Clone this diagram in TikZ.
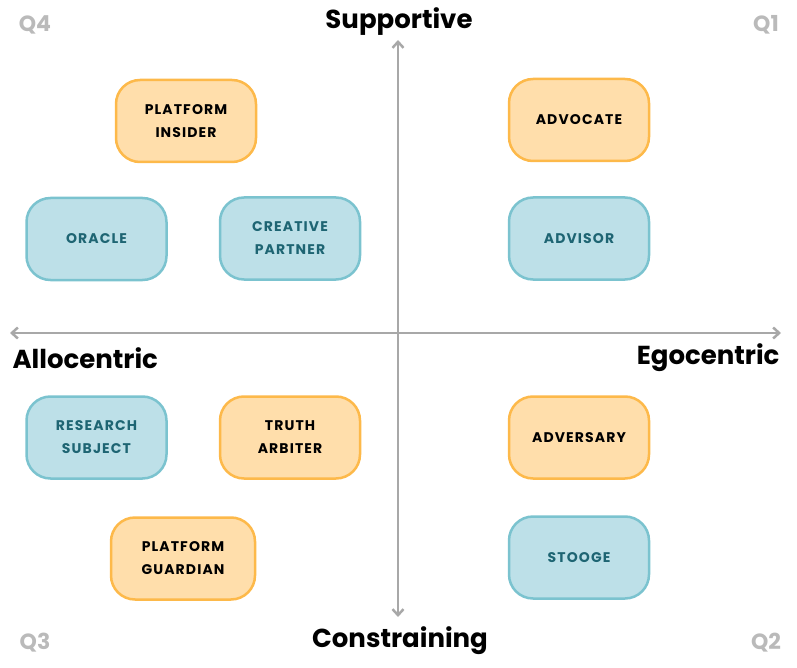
\documentclass[tikz,border=0pt]{standalone}
\usepackage{fontspec}
\usetikzlibrary{arrows.meta}
\setmainfont{Poppins}
\newfontfamily\spaced[LetterSpace=8]{Poppins}
\definecolor{ofill}{HTML}{FFDEAB}
\definecolor{oline}{HTML}{FDB94A}
\definecolor{bfill}{HTML}{BDE0E8}
\definecolor{bline}{HTML}{7BC3CF}
\definecolor{btext}{HTML}{1E6573}
\definecolor{axis}{HTML}{A8A8A8}
\begin{document}
\begin{tikzpicture}[x=1pt,y=-1pt,
  card/.style={rounded corners=24pt,line width=2.5pt,minimum width=140pt,minimum height=82pt,align=center,font=\spaced\bfseries\fontsize{14}{23}\selectfont},
  orange/.style={card,fill=ofill,draw=oline,text=black},
  blue/.style={card,fill=bfill,draw=bline,text=btext},
  axlab/.style={font=\bfseries\fontsize{26}{28}\selectfont},
  qlab/.style={font=\bfseries\fontsize{22}{24}\selectfont,text=black!27}]
\useasboundingbox (0,0) rectangle (797,668);
\draw[axis,line width=2.5pt,{Straight Barb[length=6pt,width=11pt]}-{Straight Barb[length=6pt,width=11pt]}] (398,40) -- (398,617);
\draw[axis,line width=2.5pt,{Straight Barb[length=6pt,width=11pt]}-{Straight Barb[length=6pt,width=11pt]}] (10,333) -- (781,333);
\node[axlab] (sup) at (399,22) {Supportive};
\node[axlab] (con) at (400,641) {Constraining};
\node[axlab,anchor=west] (allo) at (9,358) {Allocentric};
\node[axlab,anchor=east] (ego) at (783,358) {Egocentric};
\node[qlab] (q4) at (35,25) {Q4};
\node[qlab] (q1) at (766,25) {Q1};
\node[qlab] (q3) at (35,643) {Q3};
\node[qlab] (q2) at (766,643) {Q2};
\node[orange] (pi) at (186,121) {PLATFORM\\INSIDER};
\node[blue] (or) at (96.5,239) {ORACLE};
\node[blue] (cp) at (290,238.5) {CREATIVE\\PARTNER};
\node[orange] (adv) at (579,120) {ADVOCATE};
\node[blue] (ads) at (579,238.5) {ADVISOR};
\node[blue] (rs) at (96.5,437.5) {RESEARCH\\SUBJECT};
\node[orange] (ta) at (290,437.5) {TRUTH\\ARBITER};
\node[orange,minimum width=144pt] (pg) at (183,558.5) {PLATFORM\\GUARDIAN};
\node[orange] (ady) at (579,437.5) {ADVERSARY};
\node[blue] (st) at (579,557.5) {STOOGE};
\end{tikzpicture}
\end{document}
